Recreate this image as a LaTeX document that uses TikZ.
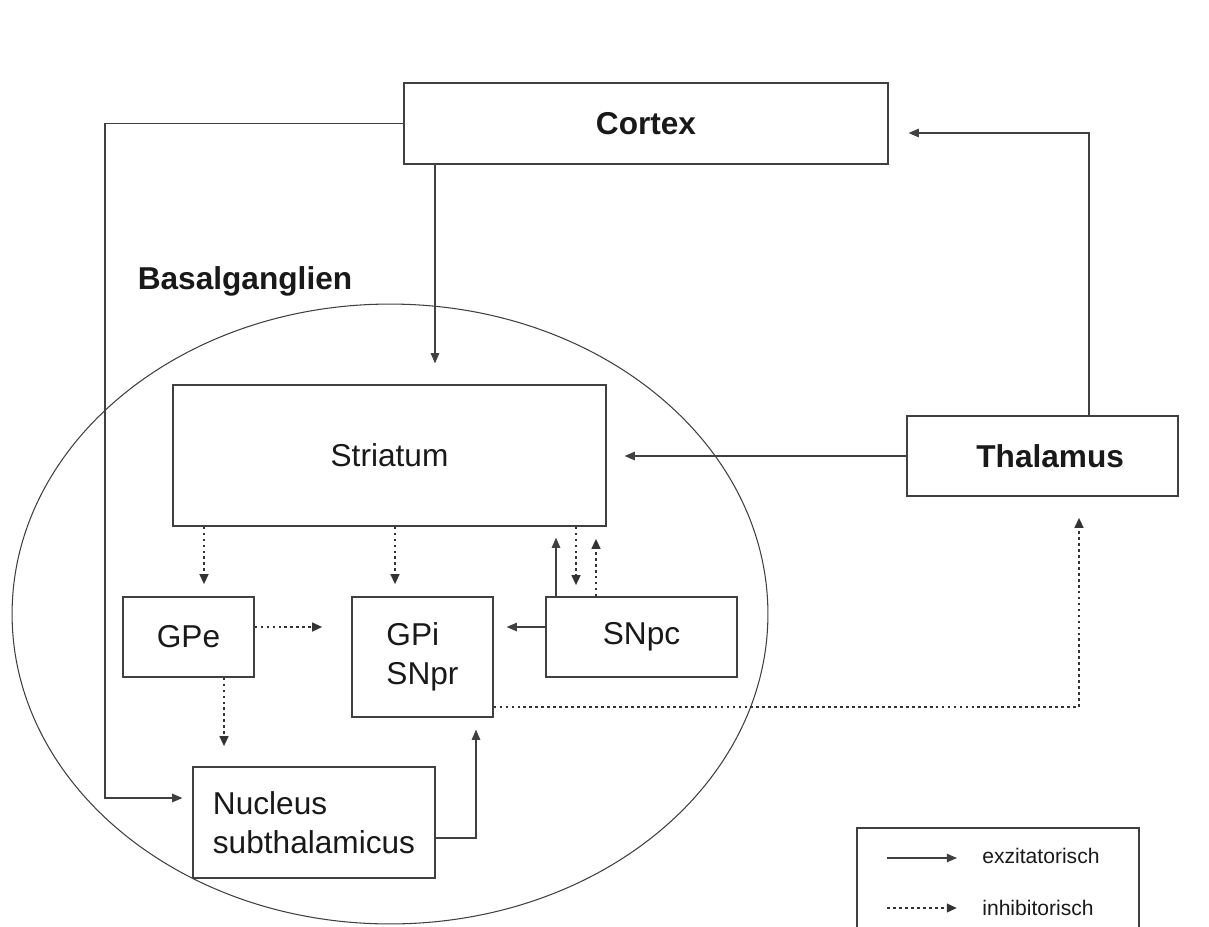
\documentclass[tikz,border=0pt]{standalone}
\usepackage{fontspec}
\setmainfont{Liberation Sans}
\usetikzlibrary{arrows.meta}
\definecolor{linegray}{gray}{0.25}
\definecolor{textgray}{gray}{0.1}
\tikzset{
    box/.style={draw=linegray, line width=0.7pt, text=textgray, inner sep=0pt,
        font=\fontsize{18}{22.5}\selectfont},
    boldbox/.style={box, font=\bfseries\fontsize{18}{22.5}\selectfont},
    exc/.style={draw=linegray, line width=0.7pt, -{Triangle[length=5.8pt,width=4.8pt]}},
    inh/.style={draw=black!80, line width=1.5pt, dash pattern=on 1.6pt off 1.8pt,
        -{Triangle[length=5.8pt,width=4.8pt]}},
}
\begin{document}
\begin{tikzpicture}[x=0.02cm, y=-0.02cm]
    \useasboundingbox (0,0) rectangle (1209,926);

    % Basalganglien
    \draw[draw=linegray, line width=0.6pt] (390,614) ellipse [x radius=7.56cm, y radius=6.2cm];
    \node[text=textgray, font=\bfseries\fontsize{18}{22.5}\selectfont](bg) at (245,281) {Basalganglien};

    \node[boldbox, minimum width=9.68cm, minimum height=1.62cm](cortex) at (646,123.5) {Cortex};
    \node[boldbox, minimum width=5.42cm, minimum height=1.6cm, text width=3.26cm, align=right](thalamus) at (1042.5,456) {Thalamus};
    \node[box, minimum width=8.66cm, minimum height=2.82cm](striatum) at (389.5,455.5) {Striatum};
    \node[box, minimum width=2.62cm, minimum height=1.6cm](gpe) at (188.5,637) {GPe};
    \node[box, minimum width=2.82cm, minimum height=2.4cm, align=left](gpi) at (422.5,657) {GPi\\SNpr};
    \node[box, minimum width=3.82cm, minimum height=1.6cm](snpc) at (641.5,637) {SNpc};
    \node[box, minimum width=4.84cm, minimum height=2.22cm, align=left](nst) at (314,822.5) {Nucleus\\subthalamicus};

    % exzitatorisch
    \draw[exc, shorten >=0.2cm] (cortex.west) -| (105,798) -- (nst.west |- 0,798);
    \draw[exc, shorten >=0.42cm] (cortex.south -| 435,0) -- (striatum.north -| 435,0);
    \draw[exc, shorten >=0.4cm] (thalamus.north -| 1089,0) |- (cortex.east |- 0,133);
    \draw[exc, shorten >=0.36cm] (thalamus.west) -- (striatum.east |- thalamus.west);
    \draw[exc, shorten >=0.22cm] (snpc.north -| 556,0) -- (striatum.south -| 556,0);
    \draw[exc, shorten >=0.26cm] (snpc.west |- 0,627) -- (gpi.east |- 0,627);
    \draw[exc, shorten >=0.24cm] (nst.east |- 0,838) -| (gpi.south -| 476,0);

    % inhibitorisch
    \draw[inh, shorten >=0.24cm] (striatum.south -| 204,0) -- (gpe.north -| 204,0);
    \draw[inh, shorten >=0.24cm] (striatum.south -| 395,0) -- (gpi.north -| 395,0);
    \draw[inh, shorten >=0.22cm] (striatum.south -| 576,0) -- (snpc.north -| 576,0);
    \draw[inh, shorten >=0.24cm] (snpc.north -| 596,0) -- (striatum.south -| 596,0);
    \draw[inh, shorten >=0.58cm] (gpe.east |- 0,627) -- (gpi.west |- 0,627);
    \draw[inh, shorten >=0.4cm] (gpe.south -| 224,0) -- (nst.north -| 224,0);
    \draw[inh, shorten >=0.42cm] (gpi.east |- 0,707) -| (thalamus.south -| 1079,0);

    % Legende
    \draw[draw=linegray, line width=0.7pt] (857,828) rectangle (1139,960);
    \coordinate (exc_a) at (887,858);
    \coordinate (exc_b) at (957,858);
    \coordinate (inh_a) at (887,908);
    \coordinate (inh_b) at (957,908);
    \draw[exc] (exc_a) -- (exc_b);
    \draw[inh] (inh_a) -- (inh_b);
    \node[anchor=west, inner sep=0pt, text=textgray, font=\fontsize{12}{14}\selectfont](exc_txt) at (982,856) {exzitatorisch};
    \node[anchor=west, inner sep=0pt, text=textgray, font=\fontsize{12}{14}\selectfont](inh_txt) at (982,908) {inhibitorisch};
\end{tikzpicture}
\end{document}
